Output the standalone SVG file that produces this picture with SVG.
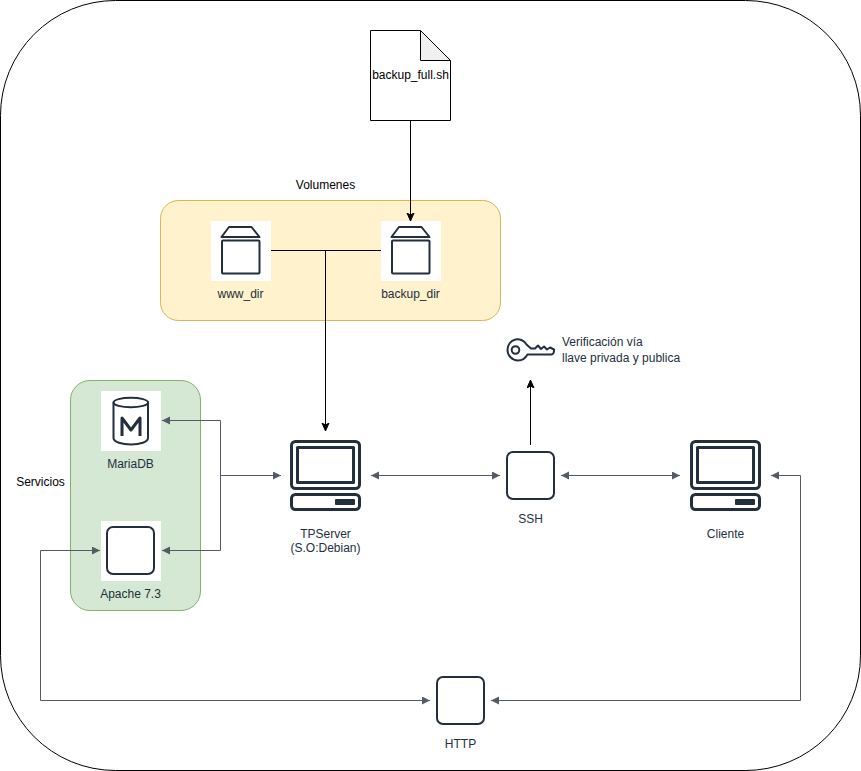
<svg xmlns="http://www.w3.org/2000/svg" width="861" height="771" viewBox="0 0 861 771">
<style>
text{font-family:"Liberation Sans",Arial,sans-serif;font-size:12px;text-anchor:middle;fill:#232f3e}
.k{fill:#000}
.ic{fill:none;stroke:#232f3e;stroke-width:2;stroke-linejoin:round;stroke-linecap:round}
.ic3{fill:none;stroke:#232f3e;stroke-width:3;stroke-linejoin:round}
.w{fill:#fff}
.g{fill:none;stroke:#545b64;stroke-width:1}
.b{fill:none;stroke:#000;stroke-width:1}
</style>
<defs>
<marker id="ag" markerUnits="userSpaceOnUse" markerWidth="9" markerHeight="9" refX="8" refY="4" orient="auto-start-reverse"><path d="M0 0L8 4L0 8Z" fill="#545b64"/></marker>
<marker id="ab" markerUnits="userSpaceOnUse" markerWidth="9" markerHeight="9" refX="7" refY="4" orient="auto"><path d="M0 0.5L8 4L0 7.5L2 4Z" fill="#000" stroke="#000" stroke-width="1"/></marker>
<g id="vol">
<path class="ic" d="M221.500 237L229 227H251.500L259.500 237Z"/>
<rect class="ic" x="222" y="240.500" width="37.500" height="33" rx="1"/>
</g>
<g id="pc">
<rect class="ic3" x="291.500" y="441.500" width="68" height="47" rx="4"/>
<rect class="ic3" x="297.500" y="447.500" width="56" height="35"/>
<rect class="ic3" x="291.500" y="494.500" width="68" height="15" rx="4"/>
<rect x="335" y="499" width="20" height="6" rx="1" fill="#232f3e"/>
</g>
</defs>
<g id="outer"><rect x="0.500" y="0.500" width="860" height="770" rx="115" ry="115" fill="#fff" stroke="#000"/></g>
<g id="volumenes"><rect x="160.500" y="200.500" width="340" height="120" rx="18" fill="#fff2cc" stroke="#d6b656"/><text x="325.500" y="189" class="k">Volumenes</text></g>
<g id="servicios"><rect x="70.500" y="380.500" width="130" height="230" rx="19.500" fill="#d5e8d4" stroke="#82b366"/><text x="40.500" y="486" class="k">Servicios</text></g>
<g id="connectors">
<path class="b" marker-end="url(#ab)" d="M410.500 120.500V220"/>
<path class="b" d="M271 250.500H381"/>
<path class="b" marker-end="url(#ab)" d="M325.500 250.500V430"/>
<path class="b" marker-end="url(#ab)" d="M530.500 445V381"/>
<path class="g" marker-end="url(#ag)" d="M221 475.500H281"/>
<path class="g" marker-end="url(#ag)" d="M220.500 420.500H162"/>
<path class="g" marker-end="url(#ag)" d="M220.500 420.500V550.500H162"/>
<path class="g" marker-start="url(#ag)" marker-end="url(#ag)" d="M371 475.500H500"/>
<path class="g" marker-start="url(#ag)" marker-end="url(#ag)" d="M561 475.500H680"/>
<path class="g" marker-start="url(#ag)" marker-end="url(#ag)" d="M430 700.500H40.500V550.500H100"/>
<path class="g" marker-start="url(#ag)" marker-end="url(#ag)" d="M491 700.500H800.500V475.500H771"/>
</g>
<g id="backup_full">
<path d="M370.500 30.500H420.500L450.500 60.500V120.500H370.500Z" fill="#fff" stroke="#000"/>
<path d="M420.500 30.500V60.500H450.500Z" fill="#f0f0f0" stroke="#000"/>
<text x="410.500" y="79" class="k">backup_full.sh</text>
</g>
<g id="www_dir"><rect class="w" x="211" y="221" width="60" height="60"/><use href="#vol"/><text x="240.500" y="298">www_dir</text></g>
<g id="backup_dir"><rect class="w" x="381" y="221" width="60" height="60"/><use href="#vol" x="170"/><text x="410.500" y="298">backup_dir</text></g>
<g id="mariadb"><rect class="w" x="101" y="391" width="60" height="60"/>
<path class="ic" d="M113.500 403V438C113.500 442 122 444.500 131 444.500S148 442 148 438V403"/>
<ellipse class="ic" cx="130.800" cy="402.500" rx="17.300" ry="4.800"/>
<path d="M122 436V418L131 430L140 418V436" fill="none" stroke="#232f3e" stroke-width="3" stroke-linejoin="round"/>
<text x="130.500" y="468">MariaDB</text></g>
<g id="apache"><rect class="w" x="101" y="521" width="60" height="60"/><rect class="ic" x="107" y="527" width="47" height="47" rx="6"/><text x="130.500" y="598">Apache 7.3</text></g>
<g id="tpserver"><use href="#pc"/><text x="325.500" y="538">TPServer</text><text x="325.500" y="552">(S.O:Debian)</text></g>
<g id="ssh"><rect class="ic" x="507" y="452" width="47" height="47" rx="6"/><text x="530.500" y="523">SSH</text></g>
<g id="cliente"><use href="#pc" x="400"/><text x="725.500" y="538">Cliente</text></g>
<g id="http"><rect class="ic" x="437" y="677" width="47" height="47" rx="6"/><text x="460.500" y="748">HTTP</text></g>
<g id="key">
<path class="ic" d="M527 345C524 340 519 338.500 515.500 339.500C510.500 340.500 507.500 345 507.500 350C507.500 355.500 512 360.500 518 360.500C522 360.500 525.500 358 527.500 354.500H551C552.500 354.500 554 353 554 351V349.500L550 347.500L547 349.500L544 346.500L541 349L538 345.500L535 348.500L531 348.500Z"/>
<circle class="ic" cx="515.500" cy="350" r="3.800"/>
<text x="562" y="346" style="text-anchor:start">Verificación vía</text>
<text x="562" y="362" style="text-anchor:start">llave privada y publica</text>
</g>
</svg>
